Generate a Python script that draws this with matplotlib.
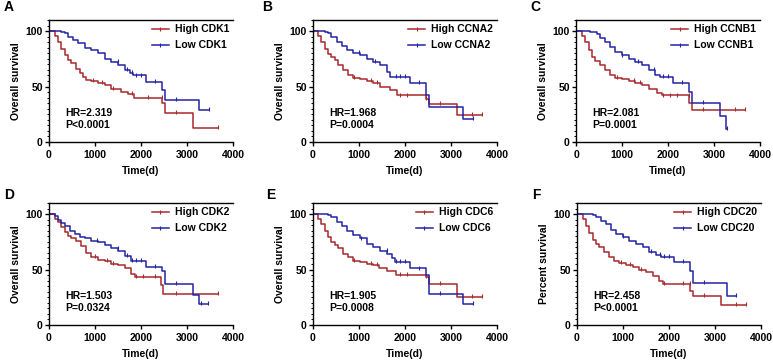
import matplotlib
matplotlib.use("Agg")
import matplotlib.pyplot as plt
from matplotlib.lines import Line2D
from matplotlib.ticker import MultipleLocator
import numpy as np

plt.rcParams['font.family'] = ['Liberation Sans', 'DejaVu Sans']
plt.rcParams['font.weight'] = 'bold'

RED = '#A8282C'
BLUE = '#2424A4'

# ---- data (time in days, survival in %) ----
A_high_t = [0, 123, 196, 268, 341, 413, 486, 595, 667, 740, 812, 921, 1066, 1211, 1356, 1573, 1718, 1849, 2458, 2530, 3130, 3680]
A_high_s = [100, 96, 90, 84, 78, 74, 71, 66, 62, 59, 56, 55, 53, 51, 48, 45, 43, 40, 35, 26, 13, 13]
A_low_t = [0, 268, 341, 413, 522, 631, 776, 921, 1066, 1211, 1356, 1501, 1646, 1755, 1827, 2100, 2450, 2530, 3260, 3470]
A_low_s = [100, 99, 98, 95, 92, 89, 85, 83, 80, 75, 72, 69, 65, 62, 60, 54, 47, 38, 29, 29]
A_high_cens = [950, 1150, 1400, 1800, 2150, 2450, 2750, 3680]
A_low_cens = [1500, 1700, 1800, 1900, 2000, 2300, 2750, 3470]

B_high_t = [0, 110, 183, 256, 329, 402, 475, 548, 657, 767, 876, 1022, 1168, 1314, 1460, 1679, 1825, 2450, 2530, 3130, 3680]
B_high_s = [100, 96, 90, 84, 79, 77, 74, 69, 65, 60, 58, 57, 55, 53, 50, 47, 42, 39, 34, 24, 24]
B_low_t = [0, 256, 329, 402, 511, 621, 730, 876, 1022, 1168, 1314, 1460, 1606, 1679, 2100, 2450, 2530, 3260, 3470]
B_low_s = [100, 99, 98, 95, 90, 87, 83, 80, 78, 75, 72, 69, 63, 59, 53, 42, 32, 21, 21]
B_high_cens = [900, 1250, 1400, 1900, 2050, 2450, 2750, 3450, 3680]
B_low_cens = [1000, 1350, 1800, 1900, 2000, 2300, 3470]

C_high_t = [0, 130, 203, 275, 348, 420, 530, 638, 747, 855, 1000, 1145, 1290, 1435, 1580, 1760, 1870, 2460, 2530, 3680]
C_high_s = [100, 96, 90, 83, 77, 73, 69, 65, 60, 58, 57, 55, 53, 51, 48, 44, 42, 35, 29, 29]
C_low_t = [0, 312, 457, 530, 638, 747, 855, 1000, 1145, 1290, 1435, 1580, 1725, 1834, 2100, 2450, 2530, 3130, 3260, 3290]
C_low_s = [100, 99, 97, 94, 90, 86, 81, 78, 75, 72, 69, 65, 60, 59, 53, 45, 35, 23, 12, 12]
C_high_cens = [900, 1250, 1400, 1900, 2050, 2200, 2450, 2750, 3450, 3680]
C_low_cens = [1000, 1350, 1700, 1900, 2000, 2300, 2750, 3290]

D_high_t = [0, 123, 196, 268, 341, 413, 486, 595, 703, 812, 921, 1066, 1211, 1356, 1501, 1646, 1776, 1863, 2430, 2480, 3680]
D_high_s = [100, 96, 93, 88, 84, 80, 78, 76, 71, 65, 61, 59, 58, 55, 54, 51, 46, 43, 36, 28, 28]
D_low_t = [0, 123, 196, 268, 341, 450, 558, 667, 776, 921, 1066, 1211, 1356, 1501, 1646, 1776, 2100, 2450, 2530, 3130, 3260, 3460]
D_low_s = [100, 98, 95, 92, 89, 85, 82, 79, 78, 76, 75, 72, 69, 67, 62, 58, 52, 49, 37, 27, 19, 19]
D_high_cens = [1000, 1250, 1400, 1900, 2050, 2300, 2750, 3680]
D_low_cens = [1050, 1500, 1700, 1800, 1900, 2000, 2300, 2750, 3300, 3460]

E_high_t = [0, 110, 183, 256, 329, 402, 475, 548, 657, 767, 876, 1022, 1168, 1314, 1424, 1606, 1810, 2450, 2530, 3130, 3680]
E_high_s = [100, 96, 91, 85, 79, 75, 72, 69, 64, 61, 58, 57, 55, 54, 51, 49, 45, 43, 37, 25, 25]
E_low_t = [0, 329, 402, 511, 621, 730, 876, 1022, 1168, 1314, 1460, 1606, 1716, 1789, 2100, 2450, 2530, 3260, 3470]
E_low_s = [100, 99, 97, 93, 89, 85, 81, 78, 73, 70, 67, 64, 60, 57, 51, 45, 28, 19, 19]
E_high_cens = [900, 1250, 1400, 1900, 2050, 2450, 2750, 3450, 3680]
E_low_cens = [1050, 1600, 1800, 1900, 2000, 2300, 2750, 3470]

F_high_t = [0, 123, 196, 268, 341, 413, 486, 595, 703, 812, 921, 1066, 1211, 1356, 1501, 1646, 1776, 1863, 2460, 2530, 3130, 3680]
F_high_s = [100, 96, 89, 83, 77, 73, 70, 66, 61, 58, 56, 54, 52, 50, 48, 44, 40, 37, 31, 26, 18, 18]
F_low_t = [0, 341, 413, 522, 631, 740, 848, 993, 1138, 1283, 1428, 1573, 1718, 1827, 2100, 2450, 2530, 3260, 3460]
F_low_s = [100, 99, 97, 94, 91, 86, 82, 79, 76, 73, 70, 66, 63, 61, 57, 49, 38, 26, 26]
F_high_cens = [950, 1150, 1400, 1900, 2300, 2450, 2750, 3450, 3680]
F_low_cens = [1000, 1600, 1800, 1900, 2000, 2300, 2750, 3460]

letters = ['A', 'B', 'C', 'D', 'E', 'F']
genes = ['CDK1', 'CCNA2', 'CCNB1', 'CDK2', 'CDC6', 'CDC20']
hr_text = ['HR=2.319', 'HR=1.968', 'HR=2.081', 'HR=1.503', 'HR=1.905', 'HR=2.458']
p_text = ['P<0.0001', 'P=0.0004', 'P=0.0001', 'P=0.0324', 'P=0.0008', 'P<0.0001']
ylabels = ['Overall survival'] * 5 + ['Percent survival']

curves = [
    (A_high_t, A_high_s, A_high_cens, A_low_t, A_low_s, A_low_cens),
    (B_high_t, B_high_s, B_high_cens, B_low_t, B_low_s, B_low_cens),
    (C_high_t, C_high_s, C_high_cens, C_low_t, C_low_s, C_low_cens),
    (D_high_t, D_high_s, D_high_cens, D_low_t, D_low_s, D_low_cens),
    (E_high_t, E_high_s, E_high_cens, E_low_t, E_low_s, E_low_cens),
    (F_high_t, F_high_s, F_high_cens, F_low_t, F_low_s, F_low_cens),
]

W, H = 773, 364
fig = plt.figure(figsize=(W / 100, H / 100), dpi=100)

# axes boxes in pixels: (left, top), fixed size
lefts = [49, 313, 576, 49, 313, 577]
tops = [20, 20, 20, 203, 203, 203]
aw, ah = 184, 122
# panel letter positions in pixels
letter_x = [4, 262, 530, 4, 266, 532]
letter_y = [7, 7, 7, 195, 195, 195]


def step_value(t, s, x):
    i = np.searchsorted(t, x, side='right') - 1
    return np.array(s)[np.clip(i, 0, len(s) - 1)]


def draw_km(ax, t, s, cens, color):
    ax.step(t, s, where='post', color=color, lw=1.1)
    cy = step_value(np.array(t), s, np.array(cens))
    ax.plot(cens, cy + 0.8, ls='none', marker='|', ms=3, mew=0.8, color=color)


for k in range(6):
    ax = fig.add_axes([lefts[k] / W, 1 - (tops[k] + ah) / H, aw / W, ah / H])
    ht, hs, hc, lt, ls_, lc = curves[k]
    draw_km(ax, ht, hs, hc, RED)
    draw_km(ax, lt, ls_, lc, BLUE)

    ax.set_xlim(0, 4000)
    ax.set_ylim(0, 110)
    ax.set_xticks([0, 1000, 2000, 3000, 4000])
    ax.set_yticks([0, 50, 100])
    ax.yaxis.set_minor_locator(MultipleLocator(5))
    ax.tick_params(axis='both', labelsize=7.5, width=1.0, length=3)
    ax.tick_params(axis='x', pad=3)
    ax.tick_params(axis='y', pad=1.5)
    ax.tick_params(axis='y', which='minor', length=1.8, width=0.7)
    for lab in ax.get_xticklabels() + ax.get_yticklabels():
        lab.set_fontweight('bold')
    ax.spines['right'].set_visible(False)
    for sp in ['left', 'bottom', 'top']:
        ax.spines[sp].set_linewidth(1.0)
    ax.set_xlabel('Time(d)', fontsize=7.5, fontweight='bold', labelpad=4)
    ax.set_ylabel(ylabels[k], fontsize=7.5, fontweight='bold', labelpad=3)

    ax.text(0.09, 0.235, hr_text[k], transform=ax.transAxes, fontsize=7.5,
            fontweight='bold', va='center')
    ax.text(0.09, 0.14, p_text[k], transform=ax.transAxes, fontsize=7.5,
            fontweight='bold', va='center')

    handles = [Line2D([], [], color=RED, lw=1.1, marker='|', ms=3, mew=0.8),
               Line2D([], [], color=BLUE, lw=1.1, marker='|', ms=3, mew=0.8)]
    ax.legend(handles, ['High ' + genes[k], 'Low ' + genes[k]], loc='upper right',
              bbox_to_anchor=(1.03, 1.04), frameon=False,
              handlelength=1.6, handletextpad=0.6, labelspacing=0.55,
              prop={'weight': 'bold', 'size': 7.5})

    fig.text(letter_x[k] / W, 1 - letter_y[k] / H, letters[k],
             fontsize=10, fontweight='bold', va='center')

fig.savefig('out.png', dpi=100)
